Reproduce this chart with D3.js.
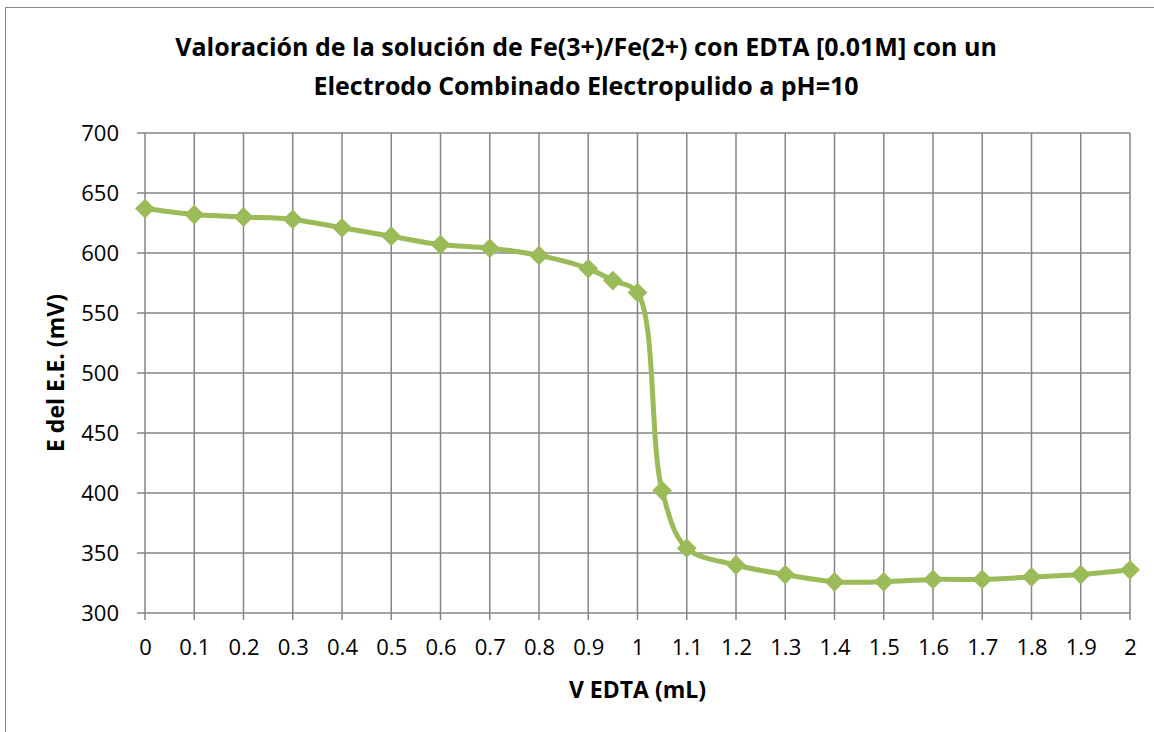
<!DOCTYPE html>
<html>
<head>
<meta charset="utf-8">
<script src="https://cdn.jsdelivr.net/npm/d3@7"></script>
<style>
	body { margin: 0; background: #fff; }
	svg text { font-family: "Open Sans", Lato, sans-serif; }
	.tick text { font-size: 22px; fill: #000; }
	.title { font-size: 25px; font-weight: bold; }
	.axistitle { font-size: 23px; font-weight: bold; }
</style>
</head>
<body>
<div id="chart"></div>
<script>
"use strict";

// Titration data: V EDTA (mL) vs E (mV)
var volumes = [0, 0.1, 0.2, 0.3, 0.4, 0.5, 0.6, 0.7, 0.8, 0.9, 0.95, 1, 1.05,
	1.1, 1.2, 1.3, 1.4, 1.5, 1.6, 1.7, 1.8, 1.9, 2];
var potentials = [637, 632, 630, 628, 621, 614, 607, 604, 598, 587, 577, 567, 402,
	354, 340, 332, 326, 326, 328, 328, 330, 332, 336];
var xTicks = [0, 0.1, 0.2, 0.3, 0.4, 0.5, 0.6, 0.7, 0.8, 0.9, 1,
	1.1, 1.2, 1.3, 1.4, 1.5, 1.6, 1.7, 1.8, 1.9, 2];
var yTicks = [300, 350, 400, 450, 500, 550, 600, 650, 700];
var titleLines = ["Valoración de la solución de Fe(3+)/Fe(2+) con EDTA [0.01M] con un",
	"Electrodo Combinado Electropulido a pH=10"];

var W = 1154, H = 732;
var margin = {left: 145, right: 24, top: 133, bottom: 119};
var width = W - margin.left - margin.right;
var height = H - margin.top - margin.bottom;
var gridColor = "#868686";
var lineColor = "#9bbb59";

var svg = d3.select("#chart").append("svg")
	.attr("width", W)
	.attr("height", H);

// chart area border
svg.append("rect")
	.attr("x", 5.5).attr("y", 7.5)
	.attr("width", W + 20).attr("height", H + 20)
	.attr("fill", "none")
	.attr("stroke", "#888")
	.attr("stroke-width", 1);

var g = svg.append("g")
	.attr("transform", "translate(" + margin.left + "," + margin.top + ")");

var scaleX = d3.scaleLinear().domain([0, 2]).range([0, width]);
var scaleY = d3.scaleLinear().domain([300, 700]).range([height, 0]);

// gridlines
g.append("g").selectAll("line")
	.data(yTicks)
	.enter().append("line")
	.attr("x1", -8).attr("x2", width)
	.attr("y1", function(d) { return scaleY(d); })
	.attr("y2", function(d) { return scaleY(d); })
	.attr("stroke", gridColor)
	.attr("stroke-width", 1.5);

g.append("g").selectAll("line")
	.data(xTicks)
	.enter().append("line")
	.attr("y1", 0).attr("y2", height + 7)
	.attr("x1", function(d) { return scaleX(d); })
	.attr("x2", function(d) { return scaleX(d); })
	.attr("stroke", gridColor)
	.attr("stroke-width", 1.5);

var yAxis = g.append("g")
	.call(d3.axisLeft(scaleY).tickValues(yTicks).tickSize(0).tickPadding(26));
yAxis.select(".domain").remove();

var xAxis = g.append("g")
	.attr("transform", "translate(0," + height + ")")
	.call(d3.axisBottom(scaleX).tickValues(xTicks).tickSize(0).tickPadding(26)
		.tickFormat(function(d) { return String(d); }));
xAxis.select(".domain").remove();

var data = volumes.map(function(v, i) { return {x: v, y: potentials[i]}; });

var lineFunc = d3.line()
	.x(function(d) { return scaleX(d.x); })
	.y(function(d) { return scaleY(d.y); })
	.curve(d3.curveCatmullRom.alpha(0.5));

g.append("path")
	.datum(data)
	.attr("d", lineFunc)
	.attr("fill", "none")
	.attr("stroke", lineColor)
	.attr("stroke-width", 5)
	.attr("stroke-linejoin", "round");

g.append("g").selectAll("path")
	.data(data)
	.enter().append("path")
	.attr("transform", function(d) {
		return "translate(" + scaleX(d.x) + "," + scaleY(d.y) + ") rotate(45)";
	})
	.attr("d", "M-7,-7H7V7H-7Z")
	.attr("fill", lineColor);

svg.append("g").selectAll("text")
	.data(titleLines)
	.enter().append("text")
	.attr("class", "title")
	.attr("x", 586)
	.attr("y", function(d, i) { return 56 + i * 39; })
	.attr("text-anchor", "middle")
	.text(function(d) { return d; });

svg.append("text")
	.attr("class", "axistitle")
	.attr("transform", "translate(64," + (margin.top + height / 2) + ") rotate(-90)")
	.attr("text-anchor", "middle")
	.text("E del E.E. (mV)");

svg.append("text")
	.attr("class", "axistitle")
	.attr("x", margin.left + width / 2)
	.attr("y", 698)
	.attr("text-anchor", "middle")
	.text("V EDTA (mL)");
</script>
</body>
</html>
